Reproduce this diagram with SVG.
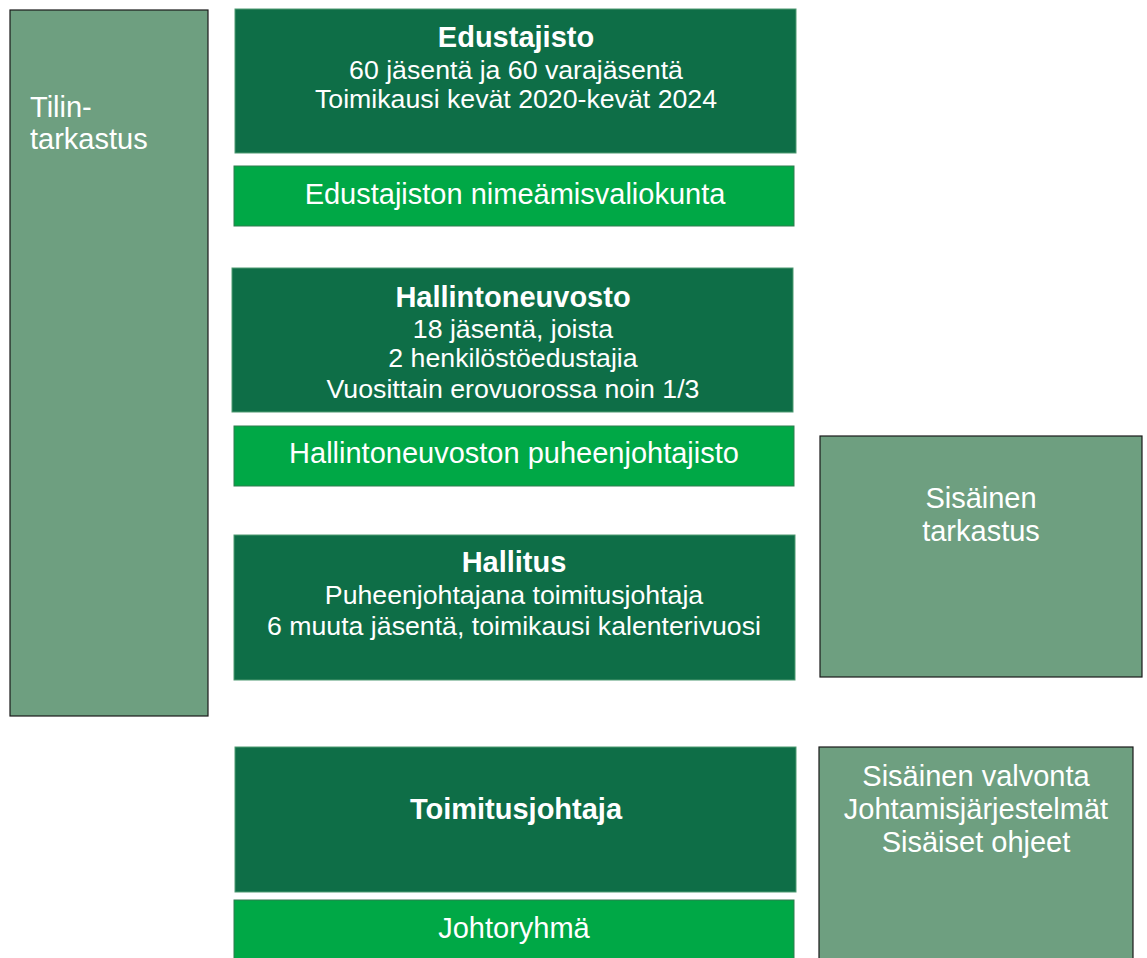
<svg xmlns="http://www.w3.org/2000/svg" width="1147" height="958" viewBox="0 0 1147 958">
<style>
.dark{fill:#0E6E47;stroke:#4F9A72;stroke-width:1}
.bright{fill:#00A846;stroke:#2E7D4F;stroke-width:1}
.muted{fill:#6E9F80;stroke:#1A1A1A;stroke-width:1.2}
text{font-family:"Liberation Sans",Arial,sans-serif;fill:#FFFFFF;font-size:29px}
.c{text-anchor:middle}
.b{font-weight:bold}
.s{font-size:26.7px}
</style>
<rect width="1147" height="958" fill="#FFFFFF"/>
<g id="tilintarkastus">
<rect class="muted" x="10" y="10" width="198" height="706"/>
<text x="30" y="117">Tilin-</text>
<text x="30" y="149">tarkastus</text>
</g>
<g id="edustajisto">
<rect class="dark" x="235" y="9" width="561" height="144"/>
<text class="c b" x="516" y="47">Edustajisto</text>
<text class="c s" x="516" y="79">60 jäsentä ja 60 varajäsentä</text>
<text class="c s" x="516" y="108">Toimikausi kevät 2020-kevät 2024</text>
</g>
<g id="nimeamisvaliokunta">
<rect class="bright" x="234" y="166" width="560" height="60"/>
<text class="c" x="515" y="204">Edustajiston nimeämisvaliokunta</text>
</g>
<g id="hallintoneuvosto">
<rect class="dark" x="232" y="268" width="561" height="144"/>
<text class="c b" x="513" y="307">Hallintoneuvosto</text>
<text class="c s" x="513" y="338">18 jäsentä, joista</text>
<text class="c s" x="513" y="367">2 henkilöstöedustajia</text>
<text class="c s" x="513" y="398">Vuosittain erovuorossa noin 1/3</text>
</g>
<g id="puheenjohtajisto">
<rect class="bright" x="234" y="426" width="560" height="60"/>
<text class="c" x="514" y="463">Hallintoneuvoston puheenjohtajisto</text>
</g>
<g id="hallitus">
<rect class="dark" x="234" y="535" width="561" height="145"/>
<text class="c b" x="514" y="572">Hallitus</text>
<text class="c s" x="514" y="604">Puheenjohtajana toimitusjohtaja</text>
<text class="c s" x="514" y="635">6 muuta jäsentä, toimikausi kalenterivuosi</text>
</g>
<g id="sisainen-tarkastus">
<rect class="muted" x="820" y="436" width="322" height="241"/>
<text class="c" x="981" y="508">Sisäinen</text>
<text class="c" x="981" y="541">tarkastus</text>
</g>
<g id="toimitusjohtaja">
<rect class="dark" x="235" y="747" width="561" height="145"/>
<text class="c b" x="516" y="819">Toimitusjohtaja</text>
</g>
<g id="sisainen-valvonta">
<rect class="muted" x="819" y="747" width="314" height="220"/>
<text class="c" x="976" y="786">Sisäinen valvonta</text>
<text class="c" x="976" y="819">Johtamisjärjestelmät</text>
<text class="c" x="976" y="852">Sisäiset ohjeet</text>
</g>
<g id="johtoryhma">
<rect class="bright" x="234" y="900" width="560" height="70"/>
<text class="c" x="514" y="938">Johtoryhmä</text>
</g>
<g id="connectors"></g>
</svg>
